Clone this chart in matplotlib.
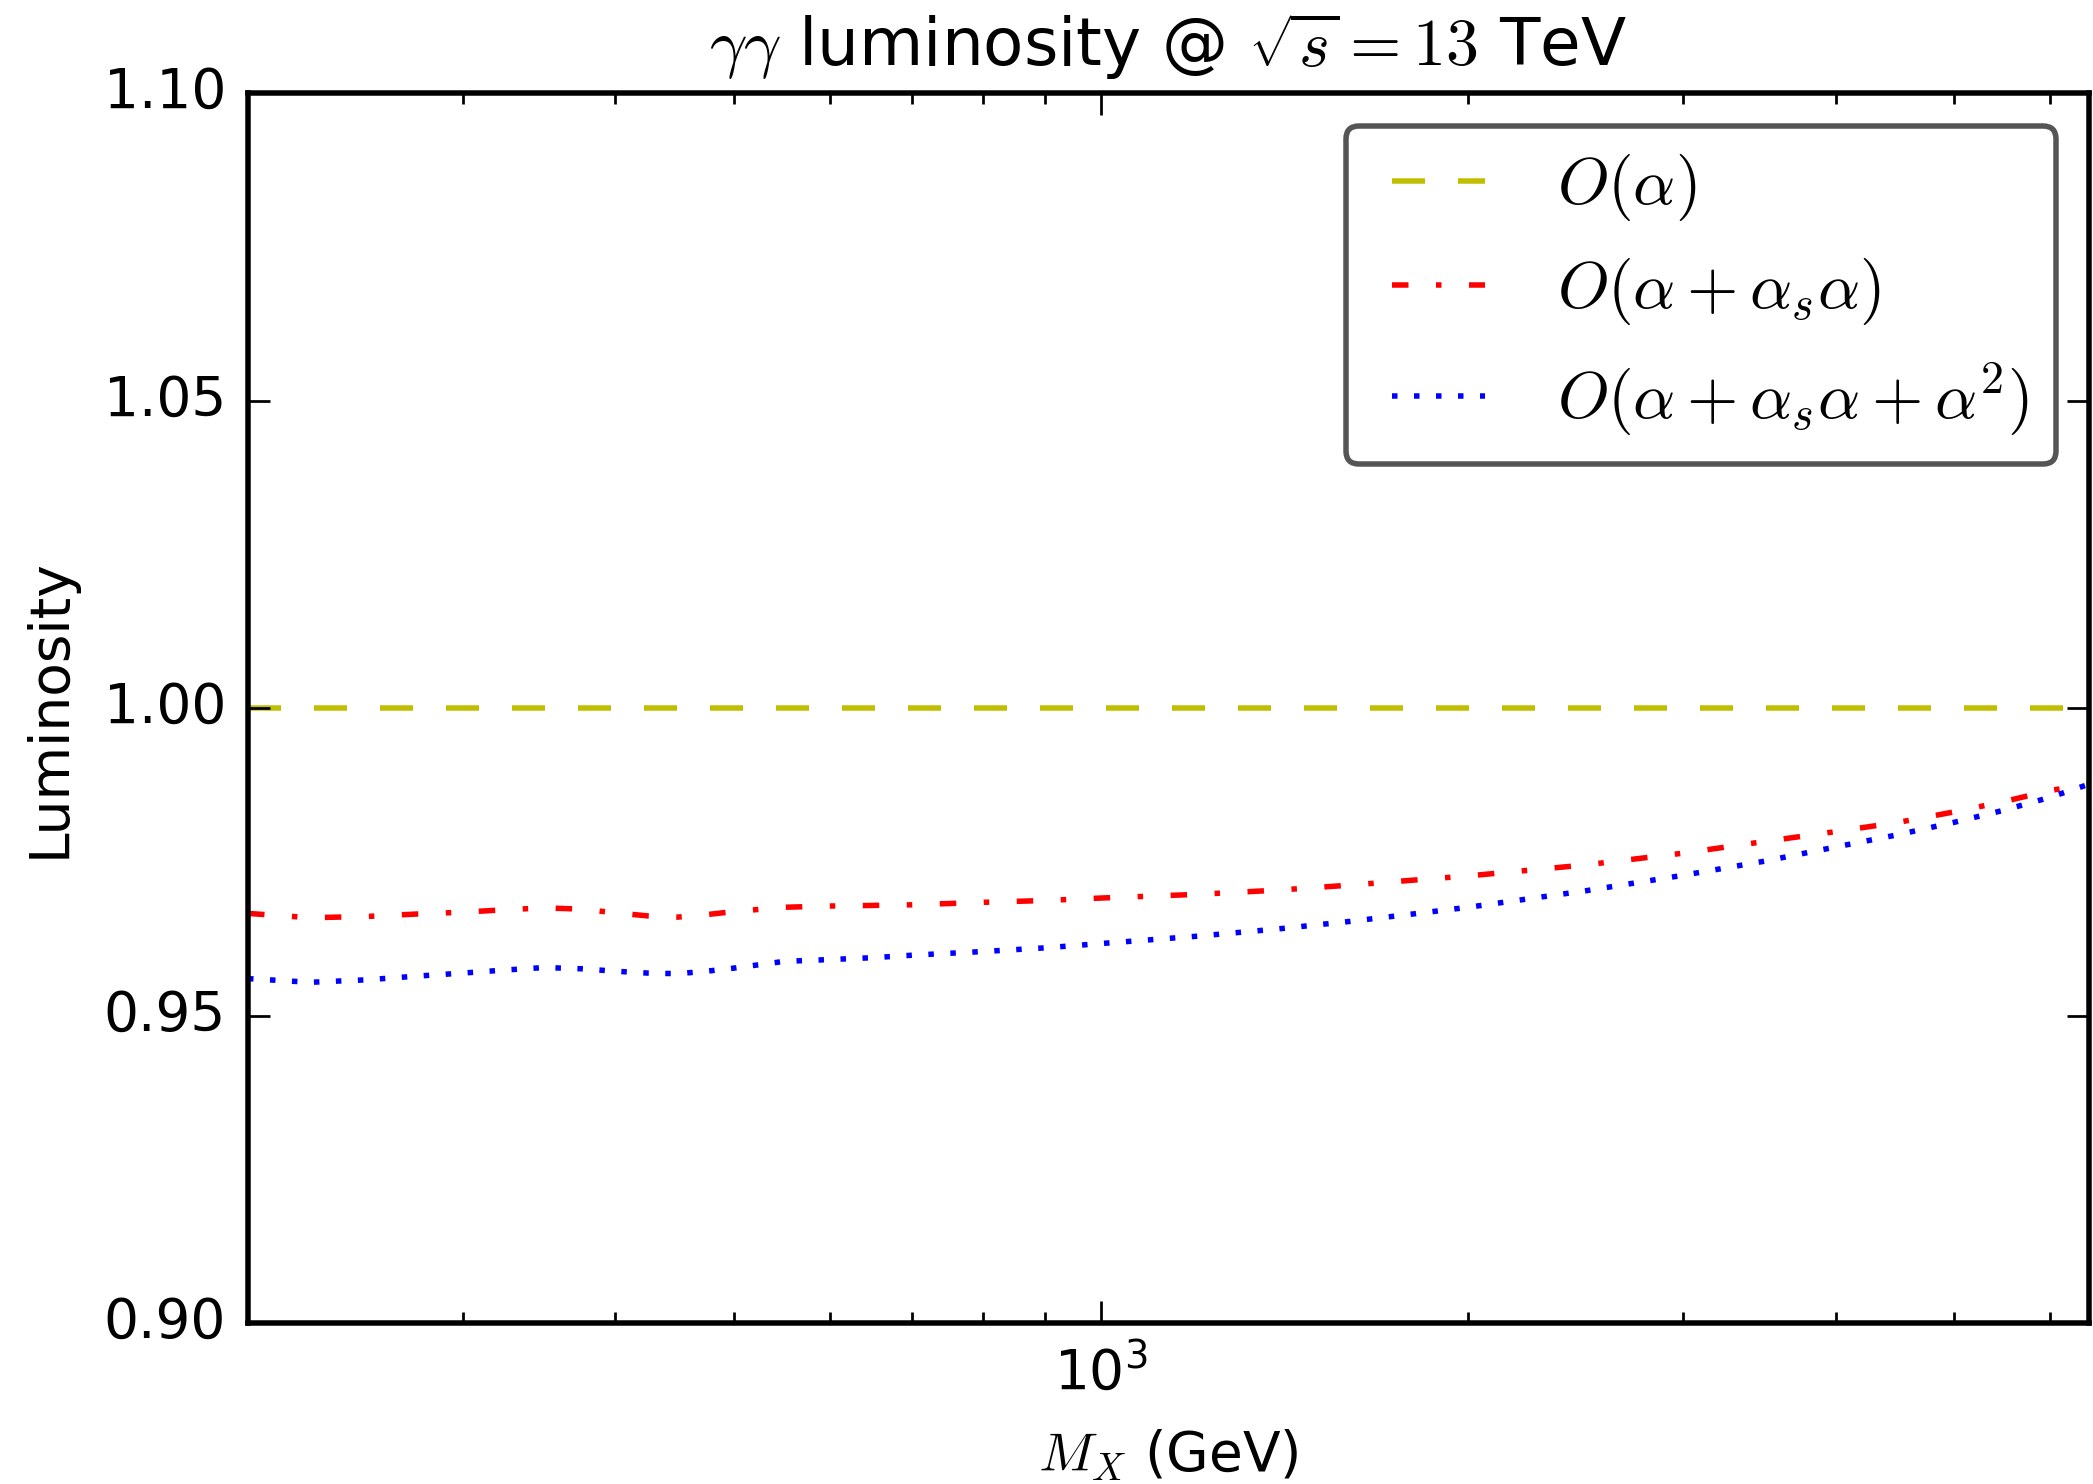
import matplotlib
matplotlib.use('Agg')
import matplotlib.pyplot as plt
from matplotlib.ticker import NullFormatter, FixedLocator

plt.style.use('classic')
plt.rcParams['font.size'] = 10

# ---- data ----
mass = [200, 225, 250, 275, 300, 325, 350, 375, 400, 425, 450, 475, 500,
        550, 600, 650, 700, 800, 900, 1000, 1200, 1400, 1600, 1800, 2000,
        2500, 3000, 3500, 4000, 4500, 5000, 5500, 6000, 6450]

lumi_alpha_mass = [200, 6450]
lumi_alpha = [1.0, 1.0]

lumi_alpha_as = [0.9666, 0.9659, 0.9661, 0.9665, 0.9668, 0.9672, 0.9675, 0.9673,
                 0.9667, 0.9662, 0.9660, 0.9664, 0.9669, 0.9676, 0.9678, 0.9679,
                 0.9680, 0.9684, 0.9687, 0.9691, 0.9697, 0.9704, 0.9712, 0.9720,
                 0.9727, 0.9745, 0.9764, 0.9783, 0.9799, 0.9814, 0.9831, 0.9848,
                 0.9866, 0.9876]

lumi_alpha_as_a2 = [0.9560, 0.9554, 0.9558, 0.9564, 0.9569, 0.9574, 0.9578, 0.9576,
                    0.9572, 0.9569, 0.9568, 0.9572, 0.9577, 0.9588, 0.9591, 0.9594,
                    0.9598, 0.9604, 0.9610, 0.9617, 0.9629, 0.9641, 0.9653, 0.9665,
                    0.9676, 0.9703, 0.9728, 0.9751, 0.9774, 0.9794, 0.9814, 0.9834,
                    0.9855, 0.9876]

y_ticks = [0.90, 0.95, 1.00, 1.05, 1.10]
labels = [r'$O(\alpha)$', r'$O(\alpha+\alpha_s\alpha)$', r'$O(\alpha+\alpha_s\alpha+\alpha^2)$']

DPI = 396
fig = plt.figure(figsize=(2093 / DPI, 1484 / DPI), dpi=DPI, facecolor='white')
ax = fig.add_axes([0.1185, 0.1085, 0.998 - 0.1185, 0.9373 - 0.1085])

ax.plot(lumi_alpha_mass, lumi_alpha, 'y--', label=labels[0])
ax.plot(mass, lumi_alpha_as, 'r-.', label=labels[1])
ax.plot(mass, lumi_alpha_as_a2, 'b:', label=labels[2])

ax.set_xscale('log')
ax.set_xlim(200, 6450)
ax.set_ylim(0.90, 1.10)
ax.yaxis.set_major_locator(FixedLocator(y_ticks))
ax.xaxis.set_minor_formatter(NullFormatter())

ax.set_title(r'$\gamma\gamma$ luminosity @ $\sqrt{s}=13$ TeV')
ax.set_xlabel(r'$M_X$ (GeV)')
ax.set_ylabel('Luminosity')

leg = ax.legend(loc='upper right', fancybox=True)
leg.get_frame().set_edgecolor('#555555')

fig.savefig('out.png', dpi=DPI, facecolor='white')
